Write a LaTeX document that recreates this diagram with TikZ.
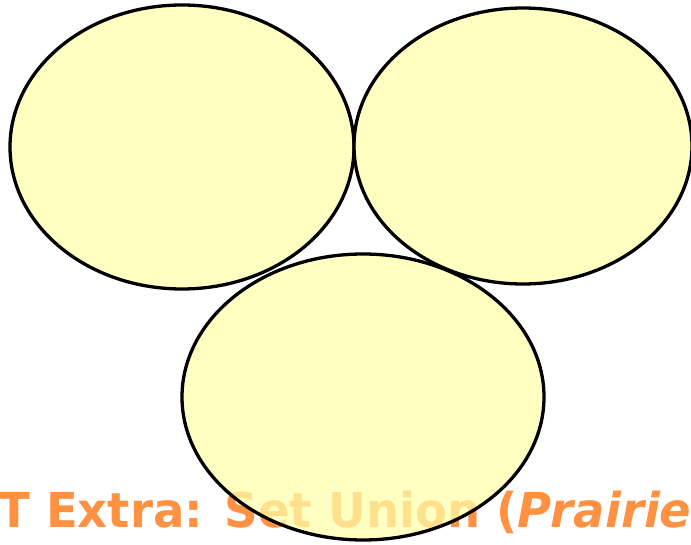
\documentclass[tikz,border=0pt]{standalone}
\usepackage{fontspec}
\setmainfont{DejaVu Sans}
\newfontfamily\titlefont[FakeStretch=0.97]{DejaVu Sans}
\definecolor{titleorange}{RGB}{255,145,66}
\definecolor{setfill}{RGB}{255,255,170}
\tikzset{
  setellipse/.style={draw=black, line width=3.3pt, fill=setfill, fill opacity=0.72},
  titletext/.style={text=titleorange, font=\titlefont\fontsize{48}{56}\selectfont\bfseries, inner sep=0pt, anchor=base west}
}
\begin{document}
\begin{tikzpicture}[x=1pt,y=-1pt]
\useasboundingbox (0,0) rectangle (691,545);
\clip (0,0) rectangle (691,545);
\node[titletext] (title) at (-2,527) {T Extra: Set Union (\textit{Prairie}};
\path[setellipse] (182,147) ellipse [x radius=172, y radius=142];
\path[setellipse] (523,146) ellipse [x radius=169, y radius=138];
\path[setellipse] (363,397) ellipse [x radius=181, y radius=143];
\end{tikzpicture}
\end{document}
